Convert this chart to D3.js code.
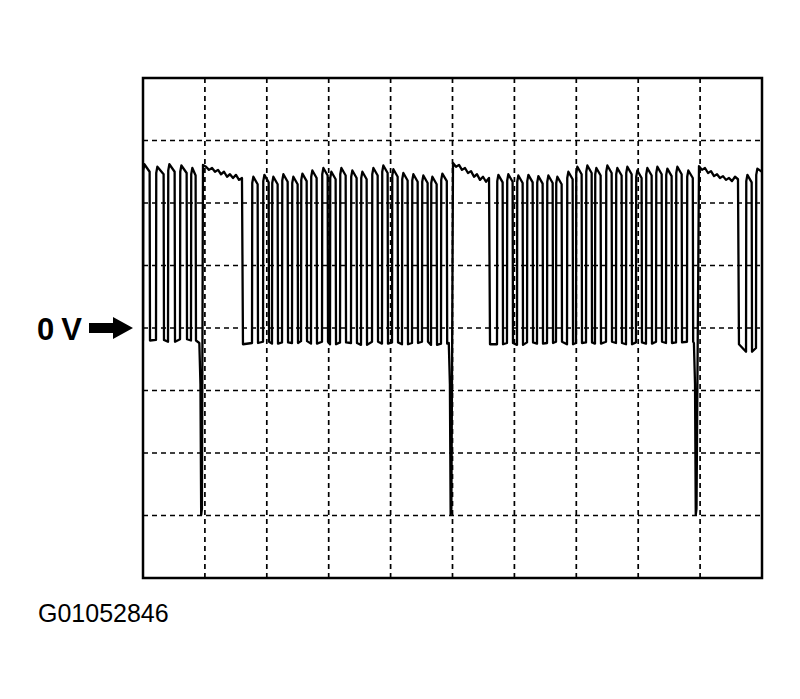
<!DOCTYPE html>
<html>
<head>
<meta charset="utf-8">
<script src="https://cdn.jsdelivr.net/npm/d3@7"></script>
<style>
  html, body { margin: 0; padding: 0; background: #fff; }
  svg { display: block; }
</style>
</head>
<body>
<script>
// ---- Data (time in divisions, voltage in divisions; 0 V = centre line) ----
const labelZero = "0 V";
const figureId = "G01052846";

const pulseRise = [
  0.00, 0.21, 0.404, 0.598, 0.775,
  1.761, 1.939, 2.084, 2.246, 2.407, 2.553, 2.714, 2.892, 3.021, 3.183,
  3.360, 3.522, 3.700, 3.861, 4.023, 4.184, 4.346, 4.507, 4.653, 4.814,
  5.719, 5.880, 6.042, 6.204, 6.365, 6.527, 6.672, 6.850, 6.995, 7.157,
  7.302, 7.480, 7.641, 7.803, 7.964, 8.126, 8.288, 8.449, 8.611, 8.788,
  9.742, 9.903
];
const pulseFall = [
  0.113, 0.339, 0.517, 0.711, 0.856,
  1.858, 2.036, 2.181, 2.343, 2.504, 2.650, 2.811, 2.989, 3.118, 3.280,
  3.457, 3.619, 3.797, 3.958, 4.120, 4.281, 4.443, 4.604, 4.750, 4.914,
  5.816, 5.977, 6.139, 6.301, 6.462, 6.624, 6.769, 6.947, 7.092, 7.254,
  7.399, 7.577, 7.738, 7.900, 8.061, 8.223, 8.385, 8.546, 8.708, 8.888,
  9.839, 10.10
];
const pulsePeak = [
  2.62, 2.58, 2.62, 2.60, 2.56,
  2.42, 2.45, 2.42, 2.46, 2.42, 2.47, 2.52, 2.56, 2.50, 2.56,
  2.52, 2.50, 2.56, 2.60, 2.54, 2.48, 2.46, 2.44, 2.42, 2.47,
  2.45, 2.46, 2.44, 2.45, 2.43, 2.44, 2.42, 2.50, 2.58, 2.60,
  2.56, 2.60, 2.56, 2.58, 2.52, 2.56, 2.58, 2.55, 2.58, 2.52,
  2.45, 2.55
];
const pulseLow = [
  -0.20, -0.19, -0.22, -0.18, -0.20,
  -0.24, -0.22, -0.25, -0.23, -0.24, -0.21, -0.25, -0.22, -0.26, -0.23,
  -0.24, -0.27, -0.22, -0.25, -0.23, -0.26, -0.24, -0.22, -0.27, -0.25,
  -0.26, -0.24, -0.27, -0.23, -0.25, -0.24, -0.22, -0.26, -0.24, -0.23,
  -0.25, -0.22, -0.24, -0.26, -0.23, -0.25, -0.22, -0.24, -0.23, -0.22,
  -0.38, -0.32
];
const spikeTime = [0.94, 4.97, 8.93];
const spikeMin = [-2.99, -2.99, -2.99];
const flatSegment1 = [[0.969,2.61],[1.018,2.58],[1.066,2.53],[1.115,2.56],[1.163,2.50],[1.212,2.53],[1.260,2.46],[1.309,2.50],[1.357,2.42],[1.405,2.46],[1.454,2.40],[1.502,2.45],[1.551,2.37],[1.599,2.40]];
const flatSegment2 = [[5.008,2.64],[5.057,2.58],[5.105,2.61],[5.153,2.53],[5.202,2.56],[5.250,2.48],[5.299,2.51],[5.347,2.42],[5.396,2.46],[5.444,2.37],[5.493,2.42],[5.541,2.34],[5.590,2.40]];
const flatSegment3 = [[8.982,2.59],[9.031,2.53],[9.079,2.56],[9.128,2.48],[9.176,2.51],[9.225,2.43],[9.273,2.46],[9.321,2.40],[9.370,2.43],[9.418,2.37],[9.467,2.40],[9.515,2.35],[9.564,2.42],[9.612,2.38]];
const flatSegments = [flatSegment1, flatSegment2, flatSegment3];
const xDivisions = d3.range(0, 11);
const yDivisions = d3.range(-4, 5);

// ---- Layout ----
const W = 800, H = 699;
const plot = { left: 143, top: 78, right: 762, bottom: 578 };

const svg = d3.select("body").append("svg")
  .attr("width", W).attr("height", H);

const x = d3.scaleLinear().domain([0, 10]).range([plot.left, plot.right]);
const y = d3.scaleLinear().domain([-4, 4]).range([plot.bottom, plot.top]);

// grid
svg.append("g").selectAll("line.v")
  .data(xDivisions.slice(1, -1)).join("line")
  .attr("x1", d => x(d)).attr("x2", d => x(d))
  .attr("y1", plot.top).attr("y2", plot.bottom)
  .attr("stroke", "#000").attr("stroke-width", 1.7)
  .attr("stroke-dasharray", "5,4");
svg.append("g").selectAll("line.h")
  .data(yDivisions.slice(1, -1)).join("line")
  .attr("y1", d => y(d)).attr("y2", d => y(d))
  .attr("x1", plot.left).attr("x2", plot.right)
  .attr("stroke", "#000").attr("stroke-width", 1.7)
  .attr("stroke-dasharray", "5,4");

// ---- build waveform ----
const elements = [];
pulseRise.forEach((r, i) => elements.push({ t: r, pts: [
  [r, pulseLow[i]],
  [r + 0.004, pulsePeak[i] - 0.10],
  [r + 0.022, pulsePeak[i]],
  [pulseFall[i] - 0.006, pulsePeak[i] - 0.12],
  [pulseFall[i], pulseLow[i]]
]}));
spikeTime.forEach((s, i) => elements.push({ t: s - 0.03, pts: [
  [s - 0.03, -0.24],
  [s - 0.012, -0.9],
  [s, spikeMin[i]],
  [s + 0.012, spikeMin[i] + 0.1]
]}));
flatSegments.forEach(seg => {
  const last = seg[seg.length - 1];
  elements.push({ t: seg[0][0], pts: seg.concat([[last[0] + 0.016, -0.26]]) });
});
elements.sort((a, b) => a.t - b.t);
const wave = elements.flatMap(e => e.pts);

svg.append("clipPath").attr("id", "clip")
  .append("rect")
  .attr("x", plot.left).attr("y", plot.top)
  .attr("width", plot.right - plot.left).attr("height", plot.bottom - plot.top);

const line = d3.line().x(d => x(d[0])).y(d => y(d[1]));
svg.append("path")
  .datum(wave)
  .attr("clip-path", "url(#clip)")
  .attr("d", line)
  .attr("fill", "none")
  .attr("stroke", "#000")
  .attr("stroke-width", 2.3)
  .attr("stroke-linejoin", "round");

// frame
svg.append("rect")
  .attr("x", plot.left).attr("y", plot.top)
  .attr("width", plot.right - plot.left).attr("height", plot.bottom - plot.top)
  .attr("fill", "none").attr("stroke", "#000").attr("stroke-width", 2.5);

// 0 V label and arrow
const y0 = y(0);
svg.append("text")
  .attr("x", 37).attr("y", y0 + 12)
  .attr("font-family", "Liberation Sans, Arial, sans-serif")
  .attr("font-weight", "bold").attr("font-size", 31)
  .attr("textLength", 45)
  .text(labelZero);
const ax0 = 89, ax1 = 113, ax2 = 133;
svg.append("path")
  .attr("d", `M${ax0},${y0 - 5} L${ax1},${y0 - 5} L${ax1},${y0 - 11} L${ax2},${y0} L${ax1},${y0 + 11} L${ax1},${y0 + 5} L${ax0},${y0 + 5} Z`)
  .attr("fill", "#000");

svg.append("text")
  .attr("x", 38).attr("y", 622)
  .attr("font-family", "Liberation Sans, Arial, sans-serif")
  .attr("font-size", 25)
  .text(figureId);
</script>
</body>
</html>
